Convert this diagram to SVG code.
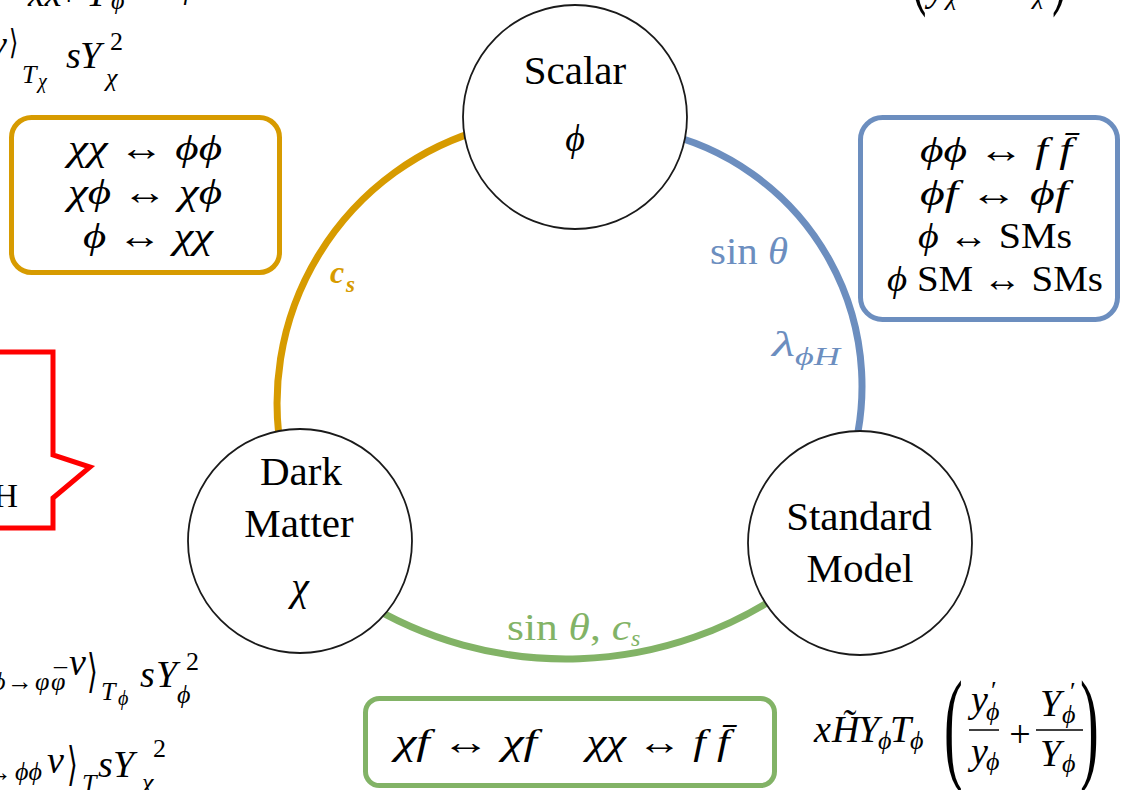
<svg xmlns="http://www.w3.org/2000/svg" width="1122" height="790" viewBox="0 0 1122 790">
<defs>
<style>
.f{font-family:"Liberation Serif","DejaVu Serif",serif;fill:#000}
.i{font-style:italic}
.node circle{fill:#fff;stroke:#1a1a1a;stroke-width:1.8}
.nl{font-size:41px;text-anchor:middle}
.arc{fill:none;stroke-width:7}
.box{fill:#fff;stroke-width:5}
.bt{font-size:36px;text-anchor:middle}
.eq{font-size:38px}
.sub{font-size:26px}
.ss{font-size:20px}
.ang{font-family:"DejaVu Serif",serif;fill:#000}
.bar{stroke:#000;stroke-width:1.5}
</style>
</defs>
<rect width="1122" height="790" fill="#fff"/>

<g id="connectors">
<path class="arc" stroke="#D79B00" d="M488,128 A285,285 0 0 0 283.2,462"/>
<path class="arc" stroke="#6C8EBF" d="M656,131.7 A260,260 0 0 1 846.3,475"/>
<path class="arc" stroke="#82B366" d="M360.4,600 A388,388 0 0 0 794,585"/>
<text class="f i" x="330" y="283" font-size="32" font-weight="bold" style="fill:#D79B00">c<tspan x="346" y="292" font-size="23">s</tspan></text>
<text class="f" x="710" y="264" font-size="38" textLength="78" lengthAdjust="spacingAndGlyphs" style="fill:#6C8EBF">sin <tspan class="i">θ</tspan></text>
<text class="f i" x="772" y="356" font-size="36" textLength="23" lengthAdjust="spacingAndGlyphs" style="fill:#6C8EBF">λ</text>
<text class="f i" x="795" y="365" font-size="26" textLength="45" lengthAdjust="spacingAndGlyphs" style="fill:#6C8EBF">ϕH</text>
<text class="f" x="507" y="640" font-size="38" textLength="124" lengthAdjust="spacingAndGlyphs" style="fill:#82B366">sin <tspan class="i">θ</tspan>, <tspan class="i">c</tspan></text>
<text class="f i" x="631" y="646" font-size="24" style="fill:#82B366">s</text>
</g>

<g id="scalar" class="node">
<circle cx="575" cy="117" r="112"/>
<text class="f nl" x="575" y="84">Scalar</text>
<text class="f i" x="575" y="151" font-size="38" text-anchor="middle">ϕ</text>
</g>

<g id="dark-matter" class="node">
<circle cx="300" cy="541" r="112"/>
<text class="f nl" x="301" y="485">Dark</text>
<text class="f nl" x="299" y="537">Matter</text>
<text class="f i" x="300" y="600" font-size="40" text-anchor="middle">χ</text>
</g>

<g id="standard-model" class="node">
<circle cx="860" cy="543" r="112"/>
<text class="f nl" x="859" y="530">Standard</text>
<text class="f nl" x="860" y="582">Model</text>
</g>

<g id="box-dm-scalar">
<rect class="box" x="11.5" y="117.5" width="268" height="155" rx="20" stroke="#D79B00"/>
<text class="f i bt" x="145" y="160" textLength="154" lengthAdjust="spacingAndGlyphs">χχ <tspan font-style="normal">↔</tspan> ϕϕ</text>
<text class="f i bt" x="145" y="204" textLength="154" lengthAdjust="spacingAndGlyphs">χϕ <tspan font-style="normal">↔</tspan> χϕ</text>
<text class="f i bt" x="148" y="248" textLength="130" lengthAdjust="spacingAndGlyphs">ϕ <tspan font-style="normal">↔</tspan> χχ</text>
</g>

<g id="box-scalar-sm">
<rect class="box" x="860.5" y="117.5" width="257" height="202" rx="22" stroke="#6C8EBF"/>
<text class="f i bt" x="996" y="162" textLength="152" lengthAdjust="spacingAndGlyphs">ϕϕ <tspan font-style="normal">↔</tspan> f f̄</text>
<text class="f i bt" x="994" y="205" textLength="148" lengthAdjust="spacingAndGlyphs">ϕf <tspan font-style="normal">↔</tspan> ϕf</text>
<text class="f i bt" x="995" y="248" textLength="154" lengthAdjust="spacingAndGlyphs">ϕ <tspan font-style="normal">↔ SMs</tspan></text>
<text class="f i bt" x="995" y="291" textLength="216" lengthAdjust="spacingAndGlyphs">ϕ <tspan font-style="normal">SM ↔ SMs</tspan></text>
</g>

<g id="box-dm-sm">
<rect class="box" x="365.5" y="698.5" width="409" height="87" rx="14" stroke="#82B366"/>
<text class="f i bt" x="466" y="754" textLength="142" lengthAdjust="spacingAndGlyphs">χf <tspan font-style="normal">↔</tspan> χf</text>
<text class="f i bt" x="658" y="754" textLength="143" lengthAdjust="spacingAndGlyphs">χχ <tspan font-style="normal">↔</tspan> f f̄</text>
</g>

<g id="callout">
<polygon points="-5,352 53,352 53,455 90,467 53,498 53,528 -5,528" fill="none" stroke="#FF0000" stroke-width="5"/>
<text class="f" x="18" y="507" font-size="34" text-anchor="end">H</text>
</g>

<g id="eq-top-left">
<text class="f i eq" x="28" y="6">xx</text>
<text class="f eq" x="58" y="6">+</text>
<text class="f i eq" x="86" y="6">Y</text>
<text class="f i sub" x="111" y="9">ϕ</text>
<text class="f i eq" x="178" y="-3">ϕ</text>
<text class="f i eq" x="-10" y="57">v</text>
<text class="ang" transform="translate(9,54) scale(0.7,1)" font-size="34">⟩</text>
<text class="f i sub" x="22" y="83">T</text>
<text class="f i ss" x="38" y="88">χ</text>
<text class="f i eq" x="66" y="68">s</text>
<text class="f i eq" x="80" y="68">Y</text>
<text class="f sub" x="110" y="50">2</text>
<text class="f i sub" x="106" y="86">χ</text>
</g>

<g id="eq-top-right">
<text class="f" transform="translate(910,-6) scale(0.45,1)" font-size="110">(</text>
<text class="f i eq" x="928" y="1">y</text>
<text class="f i sub" x="946" y="5">χ</text>
<text class="f i sub" x="1033" y="4">χ</text>
<text class="f" transform="translate(1052,-6) scale(0.45,1)" font-size="110">)</text>
</g>

<g id="eq-bottom-left">
<text class="f i sub" x="-8" y="690">ϕ</text>
<text class="f sub" x="7" y="690">→</text>
<text class="f i sub" x="35" y="690">φ</text>
<text class="f i sub" x="51" y="690">φ</text>
<text class="f sub" x="54" y="686">¯</text>
<text class="f i eq" x="69" y="675">v</text>
<text class="ang" transform="translate(87,687) scale(0.6,1)" font-size="46">⟩</text>
<text class="f i sub" x="101" y="700">T</text>
<text class="f i ss" x="118" y="705">ϕ</text>
<text class="f i eq" x="140" y="687">s</text>
<text class="f i eq" x="156" y="687">Y</text>
<text class="f sub" x="186" y="670">2</text>
<text class="f i sub" x="177" y="703">ϕ</text>
<text class="f sub" x="-14" y="781">→</text>
<text class="f i sub" x="15" y="780">ϕϕ</text>
<text class="f i eq" x="47" y="773">v</text>
<text class="ang" transform="translate(67,780) scale(0.6,1)" font-size="46">⟩</text>
<text class="f i sub" x="82" y="792">T</text>
<text class="f i eq" x="98" y="777">s</text>
<text class="f i eq" x="113" y="777">Y</text>
<text class="f sub" x="153" y="757">2</text>
<text class="f i sub" x="142" y="791">χ</text>
</g>

<g id="eq-bottom-right">
<text class="f i eq" x="814" y="742">x</text>
<text class="f i eq" x="832" y="742">H̃</text>
<text class="f i eq" x="858" y="742">Y</text>
<text class="f i sub" x="878" y="749">ϕ</text>
<text class="f i eq" x="890" y="742">T</text>
<text class="f i sub" x="910" y="749">ϕ</text>
<text class="f" transform="translate(944,767) scale(0.45,1)" font-size="125">(</text>
<text class="f i eq" x="971" y="712">y</text>
<text class="f sub" x="991" y="699">′</text>
<text class="f i sub" x="986" y="720">ϕ</text>
<line class="bar" x1="969" y1="730" x2="999" y2="730"/>
<text class="f i eq" x="971" y="764">y</text>
<text class="f i sub" x="986" y="770">ϕ</text>
<text class="f eq" x="1020" y="747" text-anchor="middle">+</text>
<text class="f i eq" x="1040" y="716">Y</text>
<text class="f sub" x="1070" y="700">′</text>
<text class="f i sub" x="1062" y="723">ϕ</text>
<line class="bar" x1="1036" y1="730" x2="1083" y2="730"/>
<text class="f i eq" x="1040" y="766">Y</text>
<text class="f i sub" x="1062" y="772">ϕ</text>
<text class="f" transform="translate(1080,767) scale(0.45,1)" font-size="125">)</text>
</g>
</svg>
